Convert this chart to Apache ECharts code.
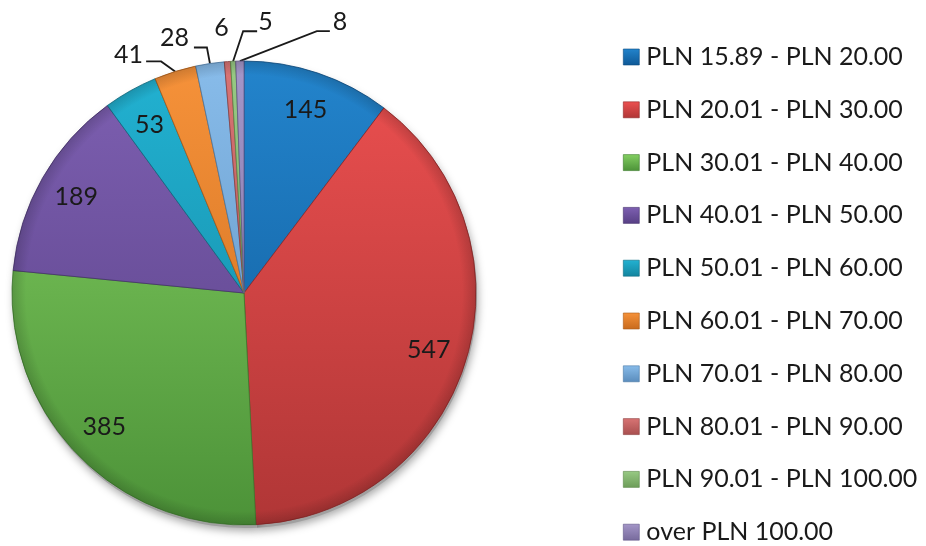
<!DOCTYPE html>
<html>
<head>
<meta charset="utf-8">
<script src="https://cdn.jsdelivr.net/npm/echarts@6/dist/echarts.min.js"></script>
<style>
  html, body { margin: 0; padding: 0; background: #ffffff; }
  #chart { width: 926px; height: 546px; }
</style>
</head>
<body>
<div id="chart"></div>
<script>
// Price bands and the number of offers in each
const categories = [
  'PLN 15.89 - PLN 20.00',
  'PLN 20.01 - PLN 30.00',
  'PLN 30.01 - PLN 40.00',
  'PLN 40.01 - PLN 50.00',
  'PLN 50.01 - PLN 60.00',
  'PLN 60.01 - PLN 70.00',
  'PLN 70.01 - PLN 80.00',
  'PLN 80.01 - PLN 90.00',
  'PLN 90.01 - PLN 100.00',
  'over PLN 100.00'
];
const counts = [145, 547, 385, 189, 53, 41, 28, 6, 5, 8];

// Slice palette: [top shade, bottom shade, edge]
const palette = [
  ['#2384cc', '#0e5896', '#0b4a80'],
  ['#ec5050', '#b03636', '#8e2828'],
  ['#84d062', '#4c9238', '#3c7a2c'],
  ['#7e60b2', '#573f84', '#46326c'],
  ['#22b2d2', '#13849e', '#0f6c82'],
  ['#f6923a', '#c86a1c', '#a85a18'],
  ['#88bcea', '#5a8cbc', '#4a78a4'],
  ['#d87474', '#a84e4e', '#8c4040'],
  ['#98ca84', '#6c9c58', '#5a8648'],
  ['#a496c8', '#776a9c', '#625888']
];

// Bands whose value is printed inside the slice
const insideLabelled = [true, true, true, true, true, false, false, false, false, false];

const CX = 244, CY = 293, R = 232;
const FONT = 'Lato, "Open Sans", sans-serif';

// Leader-line shapes for the thin slices, relative to the slice rim point:
// bend = elbow offset, run = horizontal segment, text = label offset from the run end
const leaders = {
  5: { bend: [-14, -10], run: -15, text: [-3, -7], align: 'right' },
  6: { bend: [-3, -16], run: -13, text: [-5, -10], align: 'right' },
  7: { bend: [0, 0], run: 0, text: [-6, -34], align: 'center', hidden: true },
  8: { bend: [10, -30], run: 14, text: [1, -9], align: 'left' },
  9: { bend: [77, -30], run: 13, text: [3, -9], align: 'left' }
};

function sliceFill(i) {
  const c = palette[i];
  return {
    type: 'linear', x: 0, y: CY - R, x2: 0, y2: CY + R, global: true,
    colorStops: [
      { offset: 0, color: c[0] },
      { offset: 1, color: c[1] }
    ]
  };
}

// Darkened rim laid over the whole disc
const rimShade = {
  type: 'radial', x: CX, y: CY, r: R, global: true,
  colorStops: [
    { offset: 0, color: 'rgba(0,0,0,0)' },
    { offset: 0.94, color: 'rgba(0,0,0,0)' },
    { offset: 1, color: 'rgba(0,0,0,0.16)' }
  ]
};

const mainData = categories.map((name, i) => ({
  name: name,
  value: counts[i],
  itemStyle: { color: sliceFill(i), borderColor: palette[i][2], borderWidth: 0.8 },
  label: { show: !insideLabelled[i] },
  labelLine: { show: !insideLabelled[i], lineStyle: leaders[i] && leaders[i].hidden ? { width: 0 } : {} }
}));

const overlayData = categories.map((name, i) => ({
  name: name,
  value: counts[i],
  label: { show: insideLabelled[i] }
}));

const shadowData = categories.map((name, i) => ({ name: name, value: counts[i] }));

const legendData = categories.map((name, i) => ({
  name: name,
  itemStyle: {
    color: {
      type: 'linear', x: 0, y: 0, x2: 0, y2: 1,
      colorStops: [
        { offset: 0, color: palette[i][0] },
        { offset: 1, color: palette[i][1] }
      ]
    },
    borderColor: palette[i][2],
    borderWidth: 0.6
  }
}));

const chart = echarts.init(document.getElementById('chart'), null, { renderer: 'canvas' });

chart.setOption({
  backgroundColor: '#ffffff',
  animation: false,
  legend: {
    orient: 'vertical',
    left: 623,
    top: 44.5,
    height: 510,
    padding: 0,
    itemWidth: 16,
    itemHeight: 16,
    itemGap: 27.8,
    icon: 'rect',
    selectedMode: false,
    data: legendData,
    textStyle: { fontFamily: FONT, fontSize: 25, color: '#1a1a1a', lineHeight: 25, padding: [0, 0, 0, 2] }
  },
  series: [
    {
      name: 'bands',
      type: 'pie',
      z: 3,
      center: [CX, CY],
      radius: R,
      startAngle: 90,
      clockwise: true,
      avoidLabelOverlap: false,
      minShowLabelAngle: 0,
      data: mainData,
      label: {
        position: 'outside',
        formatter: '{c}',
        fontFamily: FONT,
        fontSize: 25,
        color: '#1a1a1a'
      },
      labelLine: {
        length: 10,
        length2: 10,
        lineStyle: { color: '#1a1a1a', width: 1.8 }
      },
      labelLayout: function (p) {
        const g = leaders[p.dataIndex];
        if (!g || !p.labelLinePoints) return {};
        const a = p.labelLinePoints[0];
        const b = [a[0] + g.bend[0], a[1] + g.bend[1]];
        const c = [b[0] + g.run, b[1]];
        return {
          x: c[0] + g.text[0],
          y: c[1] + g.text[1],
          align: g.align,
          verticalAlign: 'middle',
          labelLinePoints: [a, b, c]
        };
      },
      emphasis: { disabled: true }
    },
    {
      name: 'shade',
      type: 'pie',
      z: 1,
      silent: true,
      center: [CX + 1, CY + 3],
      radius: R,
      startAngle: 90,
      data: shadowData,
      label: { show: false },
      labelLine: { show: false },
      itemStyle: {
        color: '#a0a0a0',
        shadowBlur: 9,
        shadowColor: 'rgba(0,0,0,0.35)',
        shadowOffsetX: 1,
        shadowOffsetY: 3
      },
      emphasis: { disabled: true }
    },
    {
      name: 'values',
      type: 'pie',
      z: 4,
      silent: true,
      center: [CX, CY],
      radius: [R * 0.64, R],
      startAngle: 90,
      data: overlayData,
      itemStyle: { color: rimShade },
      label: {
        position: 'inside',
        formatter: '{c}',
        fontFamily: FONT,
        fontSize: 25,
        color: '#1a1a1a'
      },
      labelLine: { show: false },
      emphasis: { disabled: true }
    }
  ]
});
</script>
</body>
</html>
